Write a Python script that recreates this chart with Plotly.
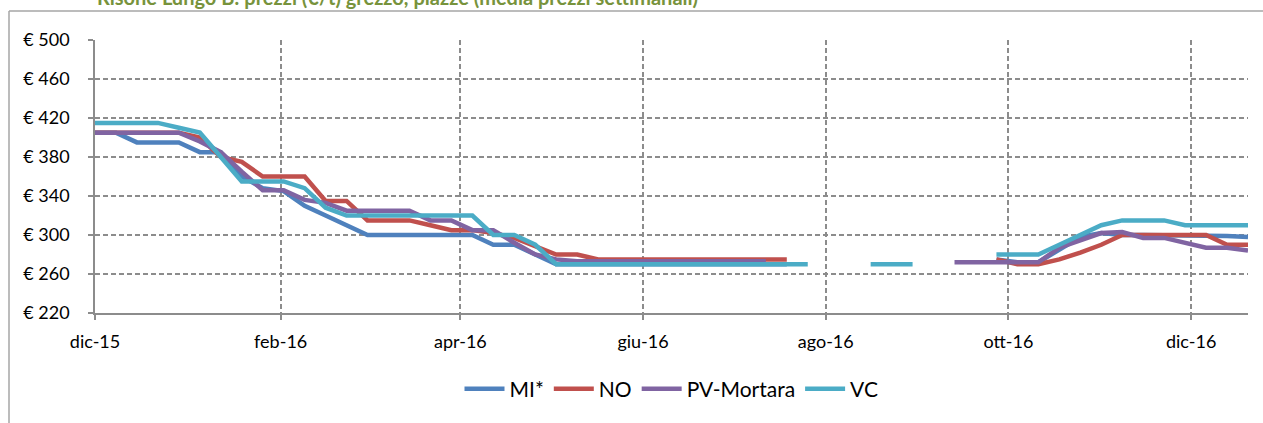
import pandas as pd
import plotly.graph_objects as go

# ---- data -------------------------------------------------------------
dates = pd.date_range("2015-12-01", periods=56, freq="7D")

mi = [405, 405, 395, 395, 395, 385, 385, 360, 348, 345, 330, 320, 310, 300, 300, 300,
      300, 300, 300, 290, 290, 280, 270,
      270, 270, 270, 270, 270, 270, 270, 270, 270, 270, 270,
      None, None, None, None, None, None, None, None, None,
      275, 272, 272, 285, 298, 302, 300, 300, 300, 300, 300, 299, 298]

no = [405, 405, 405, 405, 405, 400, 380, 375, 360, 360, 360, 335, 335, 315, 315, 315,
      310, 305, 305, 302, 297, 288, 280, 280,
      275, 275, 275, 275, 275, 275, 275, 275, 275, 275,
      None, None, None, None, None, None, None, None, None,
      275, 270, 270, 275, 282, 290, 300, 300, 300, 300, 300, 290, 290]

pv = [405, 405, 405, 405, 405, 396, 385, 365, 346, 346, 336, 333, 325, 325, 325, 325,
      315, 315, 305, 305, 292, 280, 275,
      273, 273, 273, 273, 273, 273, 273, 273, 273, 273,
      None, None, None, None, None, None, None, None,
      272, 272, 272, 272, 272, 287, 295, 302, 303, 297, 297, 292, 287, 287, 284]

vc = [415, 415, 415, 415, 410, 405, 380, 355, 355, 355, 348, 328, 320, 320, 320, 320,
      320, 320, 320, 300, 300, 290, 270,
      270, 270, 270, 270, 270, 270, 270, 270, 270, 270, 270, 270,
      None, None,
      270, 270, 270,
      None, None, None,
      280, 280, 280, 290, 300, 310, 315, 315, 315, 310, 310, 310, 310]

series_names = ["MI*", "NO", "PV-Mortara", "VC"]
series_values = [mi, no, pv, vc]
colors = ["#4F81BD", "#C0504D", "#8064A2", "#4BACC6"]

tick_dates = ["2015-12-01", "2016-02-01", "2016-04-01", "2016-06-01",
              "2016-08-01", "2016-10-01", "2016-12-01"]
tick_labels = ["dic-15", "feb-16", "apr-16", "giu-16", "ago-16", "ott-16", "dic-16"]
y_ticks = [220, 260, 300, 340, 380, 420, 460, 500]
y_tick_labels = ["€ 220", "€ 260", "€ 300", "€ 340", "€ 380", "€ 420", "€ 460", "€ 500"]

title_text = "Risone Lungo B: prezzi (€/t) grezzo, piazze (media prezzi settimanali)"

# ---- figure -----------------------------------------------------------
W, H = 1263, 423
L, R, T, B = 95, 15, 40, 110
pw, ph = W - L - R, H - T - B

def px_x(p):
    return (p - L) / pw

def px_y(p):
    return (H - B - p) / ph

fig = go.Figure()
for name, vals, col in zip(series_names, series_values, colors):
    fig.add_trace(go.Scatter(
        x=dates, y=vals, name=name, mode="lines",
        line=dict(color=col, width=4.5),
        connectgaps=False,
    ))

font_family = "Lato, Carlito, Calibri, sans-serif"
grid_col = "#8C8C8C"
axis_col = "#8C8C8C"

fig.update_layout(
    width=W, height=H,
    margin=dict(l=L, r=R, t=T, b=B, pad=0),
    paper_bgcolor="white", plot_bgcolor="white",
    font=dict(family=font_family, size=18, color="#000000"),
    showlegend=True,
    legend=dict(
        orientation="h", x=0.5, xanchor="center",
        y=px_y(389), yanchor="middle",
        font=dict(size=21, family=font_family),
        itemwidth=40, tracegroupgap=0,
    ),
    xaxis=dict(
        type="date",
        range=[dates[0], dates[-1]],
        tickvals=tick_dates, ticktext=tick_labels,
        showgrid=True, gridcolor=grid_col, gridwidth=1.5, griddash="5px,3px",
        showline=True, linecolor=axis_col, linewidth=1.5,
        ticks="outside", ticklen=5, tickcolor=axis_col, tickwidth=1.5,
        tickfont=dict(size=18),
        ticklabelstandoff=7,
        zeroline=False,
    ),
    yaxis=dict(
        range=[220, 500], tickvals=y_ticks, ticktext=y_tick_labels,
        showgrid=True, gridcolor=grid_col, gridwidth=1.5, griddash="5px,3px",
        showline=True, linecolor=axis_col, linewidth=1.5,
        ticks="outside", ticklen=5, tickcolor=axis_col, tickwidth=1.5,
        tickfont=dict(size=18),
        ticklabelstandoff=15,
        zeroline=False,
    ),
)

# outer chart frame (top and left edges visible)
fig.add_shape(type="line", xref="paper", yref="paper",
              x0=px_x(9), x1=px_x(1300), y0=px_y(11), y1=px_y(11),
              line=dict(color="#A6A6A6", width=1.5))
fig.add_shape(type="line", xref="paper", yref="paper",
              x0=px_x(9), x1=px_x(9), y0=px_y(11), y1=px_y(460),
              line=dict(color="#A6A6A6", width=1.5))

# chart title, mostly cut off at the top of the picture (as in the reference)
fig.add_annotation(
    text=title_text, xref="paper", yref="paper",
    x=px_x(95), xanchor="left", y=px_y(11), yanchor="bottom",
    showarrow=False,
    font=dict(family=font_family, size=20, color="#77933C", weight="bold"),
)

fig.write_html(
    "out.html",
    config={"displayModeBar": False},
    post_script="document.body.style.margin='0';document.body.style.overflow='hidden';",
)
